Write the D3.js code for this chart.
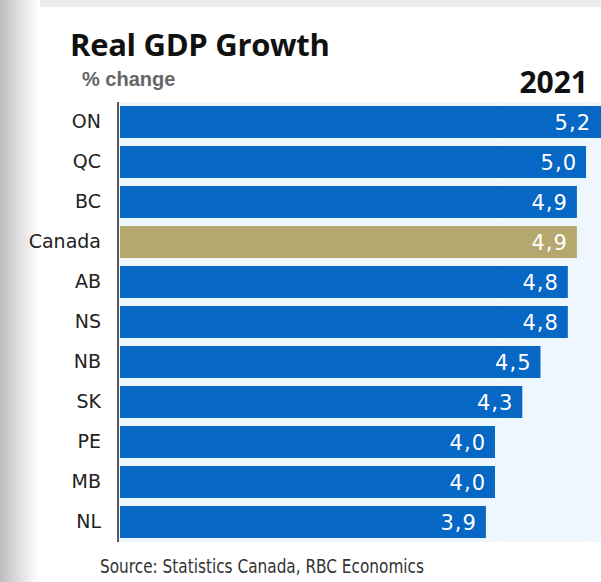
<!DOCTYPE html>
<html><head><meta charset="utf-8">
<script src="https://cdn.jsdelivr.net/npm/d3@7"></script>
<style>
html,body{margin:0;padding:0;background:#fff;}
svg{display:block;}
</style></head>
<body>
<script>
const categories = ["ON","QC","BC","Canada","AB","NS","NB","SK","PE","MB","NL"];
const values = [5.2,5.0,4.9,4.9,4.8,4.8,4.5,4.3,4.0,4.0,3.9];
const highlight = ["Canada"];
const gridTicks = [4,5];
const title = "Real GDP Growth";
const subtitle = "% change";
const yearLabel = "2021";
const source = "Source: Statistics Canada, RBC Economics";

const W = 601, H = 582;
const svg = d3.select("body").append("svg").attr("width", W).attr("height", H);

// frame: left gradient strip and top band
const defs = svg.append("defs");
const lg = defs.append("linearGradient").attr("id","leftg").attr("x1","0").attr("x2","1").attr("y1","0").attr("y2","0");
lg.append("stop").attr("offset","0%").attr("stop-color","#bcbcbc");
lg.append("stop").attr("offset","35%").attr("stop-color","#d6d6d6");
lg.append("stop").attr("offset","70%").attr("stop-color","#eeeeee");
lg.append("stop").attr("offset","100%").attr("stop-color","#ffffff");
svg.append("rect").attr("x",0).attr("y",0).attr("width",W).attr("height",7).attr("fill","#ececec");
svg.append("rect").attr("x",0).attr("y",0).attr("width",40).attr("height",H).attr("fill","url(#leftg)");

const plot = {left:118, top:102, right:601, bottom:542};
const pxPerUnit = 91;
const x = d3.scaleLinear().domain([4, 5]).range([495, 495 + pxPerUnit]);
const x0 = 120;
const y = d3.scaleBand().domain(categories).range([plot.top, plot.bottom]).paddingInner(0.2).paddingOuter(0.1);

// plot background
svg.append("rect").attr("x",plot.left).attr("y",plot.top).attr("width",plot.right-plot.left).attr("height",plot.bottom-plot.top).attr("fill","#eef6fe");
svg.append("g").selectAll("line").data(gridTicks).join("line")
  .attr("x1",d=>x(d)+4).attr("x2",d=>x(d)+4).attr("y1",plot.top).attr("y2",plot.bottom)
  .attr("stroke","#f6faff").attr("stroke-width",1);

// bars
svg.append("g").selectAll("rect").data(categories).join("rect")
  .attr("x", x0)
  .attr("y", d=>y(d))
  .attr("width", (d,i)=>x(values[i]) - x0)
  .attr("height", y.bandwidth())
  .attr("fill", d=>highlight.includes(d) ? "#b5a86f" : "#0767c4");

// value labels
const fmt = v => d3.format(".1f")(v).replace(".", ",");
svg.append("g").selectAll("text").data(categories).join("text")
  .attr("x",(d,i)=>Math.min(x(values[i]), 600) - 9)
  .attr("y", d=>y(d)+y.bandwidth()/2)
  .attr("dy","0.36em")
  .attr("text-anchor","end")
  .attr("fill","#ffffff")
  .attr("font-family","DejaVu Sans, sans-serif")
  .attr("font-size",21)
  .attr("letter-spacing",1)
  .text((d,i)=>fmt(values[i]));

// y axis
const yAxis = d3.axisLeft(y).tickSize(0).tickPadding(17);
const ga = svg.append("g").attr("transform",`translate(${plot.left},0)`).call(yAxis);
ga.select(".domain").attr("stroke","#333").attr("stroke-width",1.6).attr("d",`M0,${plot.top}V${plot.bottom}`);
ga.selectAll("text").attr("font-family","DejaVu Sans, sans-serif").attr("font-size",19).attr("fill","#222");

// titles
svg.append("text").attr("x",70).attr("y",56).attr("font-family","Open Sans, sans-serif").attr("font-weight","bold")
  .attr("font-size",31).attr("fill","#111").attr("letter-spacing",-0.3).text(title);
svg.append("text").attr("x",82).attr("y",86).attr("font-family","Liberation Sans, Arial, sans-serif").attr("font-weight","bold")
  .attr("font-size",20).attr("fill","#666").text(subtitle);
svg.append("text").attr("x",588).attr("y",93).attr("text-anchor","end").attr("font-family","Open Sans, sans-serif").attr("font-weight","bold")
  .attr("font-size",30).attr("fill","#111").text(yearLabel);
svg.append("text").attr("x",100).attr("y",573).attr("font-family","DejaVu Sans Condensed, DejaVu Sans, sans-serif")
  .attr("font-size",19).attr("fill","#333").attr("textLength",324).attr("lengthAdjust","spacingAndGlyphs").text(source);
</script>
</body></html>
